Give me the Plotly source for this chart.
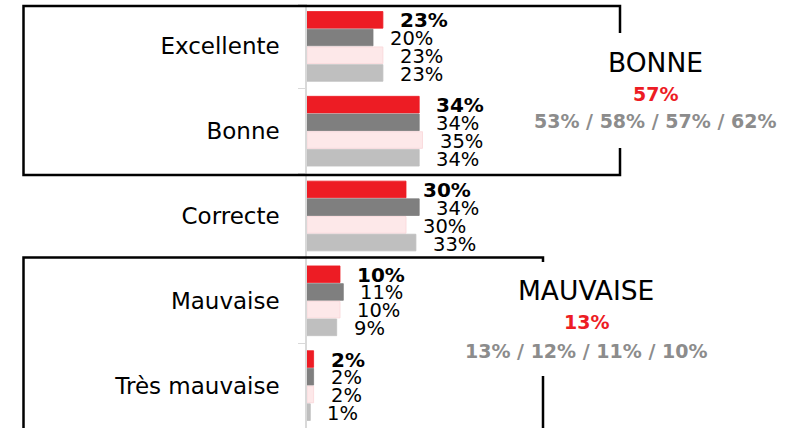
import plotly.graph_objects as go

categories = ["Excellente", "Bonne", "Correcte", "Mauvaise", "Très mauvaise"]
series_names = ["Série 1", "Série 2", "Série 3", "Série 4"]
values_s1 = [23, 34, 30, 10, 2]
values_s2 = [20, 34, 34, 11, 2]
values_s3 = [23, 35, 30, 10, 2]
values_s4 = [23, 34, 33, 9, 1]
all_values = [values_s1, values_s2, values_s3, values_s4]

bonne_title = "BONNE"
bonne_main = "57%"
bonne_hist = "53% / 58% / 57% / 62%"
mauvaise_title = "MAUVAISE"
mauvaise_main = "13%"
mauvaise_hist = "13% / 12% / 11% / 10%"

colors = ["#ED1C24", "#7F7F7F", "#FDE8E9", "#BFBFBF"]
edge_colors = ["#ED1C24", "#7F7F7F", "#F9D6D8", "#BFBFBF"]

W, H = 792, 428
ML, MR, MT, MB = 307, 0, 4, 0
PW, PH = W - ML - MR, H - MT - MB
PX_PER_PCT = 3.3

def px(x):
    return (x - ML) / PW

def py(y):
    return (H - MB - y) / PH

FONT = "DejaVu Sans"

fig = go.Figure()
for i, (name, vals) in enumerate(zip(series_names, all_values)):
    fig.add_trace(go.Bar(
        y=categories, x=vals, name=name, orientation="h",
        marker=dict(color=colors[i], line=dict(color=edge_colors[i], width=0.8)),
        showlegend=False, hoverinfo="x+y",
    ))

annotations = []
yshifts = [27, 9, -9, -27]
for i, vals in enumerate(all_values):
    for cat, v in zip(categories, vals):
        annotations.append(dict(
            x=v, y=cat, xref="x", yref="y", text=f"{v}%",
            showarrow=False, xanchor="left", yanchor="middle",
            xshift=15, yshift=yshifts[i] - 1,
            font=dict(family=FONT, size=20 if i == 0 else 19.5,
                      color="#000000",
                      weight="bold" if i == 0 else "normal"),
        ))

def block(cx, y_title, y_main, y_hist, title, main, hist):
    return [
        dict(x=px(cx), y=py(y_title), xref="paper", yref="paper", text=title,
             showarrow=False, xanchor="center", yanchor="middle",
             font=dict(family=FONT, size=26.5, color="#000000")),
        dict(x=px(cx), y=py(y_main), xref="paper", yref="paper", text=f"<b>{main}</b>",
             showarrow=False, xanchor="center", yanchor="middle",
             font=dict(family=FONT, size=19, color="#ED1C24")),
        dict(x=px(cx), y=py(y_hist), xref="paper", yref="paper", text=f"<b>{hist}</b>",
             showarrow=False, xanchor="center", yanchor="middle",
             font=dict(family=FONT, size=19, color="#8C8C8C")),
    ]

annotations += block(655, 62, 94, 121, bonne_title, bonne_main, bonne_hist)
annotations += block(586, 290, 322, 351, mauvaise_title, mauvaise_main, mauvaise_hist)

shapes = [
    dict(type="rect", xref="paper", yref="paper",
         x0=px(23.5), x1=px(620), y0=py(175), y1=py(6),
         line=dict(color="#000000", width=2.5), fillcolor="rgba(0,0,0,0)", layer="above"),
    dict(type="rect", xref="paper", yref="paper",
         x0=px(23.5), x1=px(543), y0=py(445), y1=py(257.5),
         line=dict(color="#000000", width=2.5), fillcolor="rgba(0,0,0,0)", layer="above"),
    dict(type="rect", xref="paper", yref="paper",
         x0=px(530), x1=px(785), y0=py(148), y1=py(33),
         line=dict(width=0), fillcolor="#FFFFFF", layer="above"),
    dict(type="rect", xref="paper", yref="paper",
         x0=px(460), x1=px(712), y0=py(376), y1=py(262),
         line=dict(width=0), fillcolor="#FFFFFF", layer="above"),
]

fig.update_layout(
    width=W, height=H,
    margin=dict(l=ML, r=MR, t=MT, b=MB, pad=0),
    paper_bgcolor="#FFFFFF", plot_bgcolor="#FFFFFF",
    barmode="group", bargap=0.165, bargroupgap=0.06,
    annotations=annotations, shapes=shapes,
    font=dict(family=FONT, color="#000000"),
)
fig.update_xaxes(range=[0, PW / PX_PER_PCT], visible=False, showgrid=False, zeroline=False)
fig.update_yaxes(
    autorange="reversed", showgrid=False, zeroline=False,
    showline=True, linecolor="#D9D9D9", linewidth=1.5,
    ticks="outside", tickson="boundaries", ticklen=7, tickcolor="#D9D9D9", tickwidth=1,
    ticklabelstandoff=21,
    tickfont=dict(family=FONT, size=23, color="#000000"),
)

fig.write_html("out.html",
               config={"displayModeBar": False},
               post_script="document.body.style.margin='0';document.body.style.padding='0';")
